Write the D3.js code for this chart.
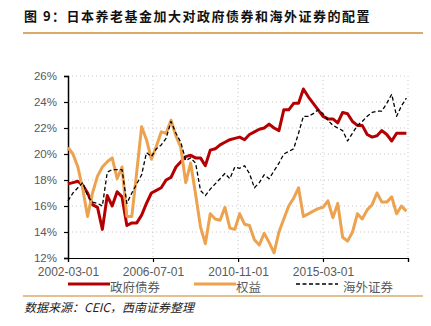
<!DOCTYPE html>
<html><head><meta charset="utf-8">
<script src="https://cdn.jsdelivr.net/npm/d3@7"></script>
<style>body{margin:0;background:#fff}svg{display:block}</style>
</head><body>
<svg id="c" width="431" height="326"></svg>
<script>
const startDate = "2002-03-01";
const tickDates = ["2002-03-01","2006-07-01","2010-11-01","2015-03-01","2019-07-01"];
const tickLabels = ["2002-03-01","2006-07-01","2010-11-01","2015-03-01",""];
const yTicks = [12,14,16,18,20,22,24,26];
const seriesNames = ["政府债券","权益","海外证券"];
const govBonds = [17.7,17.8,17.9,17.6,17.0,16.1,15.9,14.2,16.8,16.0,17.1,16.7,14.5,14.7,14.7,15.3,16.2,17.0,17.2,17.4,
 18.0,18.2,19.0,19.4,19.8,19.9,19.7,19.7,19.1,20.3,20.4,20.7,20.9,21.1,21.2,21.3,21.1,21.5,21.7,21.9,
 22.0,22.3,22.0,21.8,23.4,23.4,23.9,23.9,25.0,24.4,23.9,23.4,22.9,22.7,22.7,22.4,23.2,23.1,22.5,22.2,
 22.2,21.5,21.3,21.4,21.8,21.5,21.0,21.6,21.6,21.6];
const equities = [20.5,20.0,19.0,17.3,15.2,17.0,18.3,19.0,19.4,19.7,18.1,19.0,15.2,15.2,18.6,22.1,21.1,19.6,20.6,21.7,
 21.6,22.6,21.4,20.5,17.8,19.3,16.9,14.4,13.1,15.4,15.0,14.9,15.9,14.3,14.2,15.4,14.6,14.5,13.4,13.0,
 13.9,13.2,12.4,14.0,15.0,16.0,16.6,17.4,15.2,15.4,15.6,15.8,15.9,16.4,15.1,16.2,13.6,13.3,14.0,15.4,
 15.0,15.7,16.1,17.0,16.3,16.3,16.7,15.4,16.0,15.6];
const foreign = [16.4,17.0,17.4,17.8,16.8,16.3,16.2,16.0,18.6,18.8,18.8,18.8,16.2,17.0,17.7,18.4,20.1,19.8,20.4,20.7,
 21.2,22.5,21.6,20.9,19.5,19.7,19.3,17.2,16.8,17.3,17.7,18.1,18.5,18.1,19.0,18.9,19.1,18.5,17.4,17.8,
 18.4,18.1,18.7,19.3,20.0,20.2,20.4,21.6,22.9,22.9,23.1,23.4,23.1,22.6,22.2,22.0,21.8,21.0,21.6,22.2,
 22.5,22.9,23.2,23.3,23.3,23.9,24.6,22.9,23.7,24.3];

const parse = d3.timeParse("%Y-%m-%d");
const t0 = parse(startDate);
const dates = govBonds.map((_, i) => d3.timeMonth.offset(t0, 3 * i));

const svg = d3.select("#c");
const L = 68, R = 408, T = 76, B = 258;
const x = d3.scaleTime().domain([parse(tickDates[0]), parse(tickDates[tickDates.length-1])]).range([L, R]);
const y = d3.scaleLinear().domain([12, 26]).range([B, T]);

// title
svg.append("text").attr("x", 24).attr("y", 21)
  .attr("font-family", "'Noto Sans CJK SC', sans-serif").attr("font-weight", "bold")
  .attr("font-size", 13).attr("letter-spacing", 1.5).attr("fill", "#111")
  .text("图 9：日本养老基金加大对政府债券和海外证券的配置");
svg.append("line").attr("x1", 23).attr("x2", 423).attr("y1", 33).attr("y2", 33)
  .attr("stroke", "#d9ab6a").attr("stroke-width", 2);

// grid
const grid = svg.append("g");
yTicks.filter(v => v > 12).forEach(v => {
  grid.append("line").attr("x1", L).attr("x2", R).attr("y1", y(v)).attr("y2", y(v))
    .attr("stroke", "#c8c8c8").attr("stroke-width", 1).attr("stroke-dasharray", "1,3");
});
tickDates.slice(1).forEach(d => {
  grid.append("line").attr("x1", x(parse(d))).attr("x2", x(parse(d))).attr("y1", T).attr("y2", B)
    .attr("stroke", "#c8c8c8").attr("stroke-width", 1).attr("stroke-dasharray", "1,3");
});

// axes
const yAxis = d3.axisLeft(y).tickValues(yTicks).tickFormat(d => d + "%").tickSize(4).tickPadding(7);
const gy = svg.append("g").attr("transform", `translate(${L},0)`).call(yAxis);
gy.select(".domain").attr("stroke", "#000").attr("stroke-width", 1.5);
gy.selectAll(".tick line").attr("stroke", "#000").attr("stroke-width", 1.2);
gy.selectAll("text").attr("font-family", "'Liberation Sans', Arial, sans-serif").attr("font-size", 11.5).attr("fill", "#595959");

const xAxis = d3.axisBottom(x).tickValues(tickDates.map(parse))
  .tickFormat((d, i) => tickLabels[i]).tickSize(4).tickPadding(5);
const gx = svg.append("g").attr("transform", `translate(0,${B})`).call(xAxis);
gx.select(".domain").attr("stroke", "#000").attr("stroke-width", 1.2);
gx.selectAll(".tick line").attr("stroke", "#000").attr("stroke-width", 1.2);
gx.selectAll("text").attr("font-family", "'Liberation Sans', Arial, sans-serif").attr("font-size", 12).attr("fill", "#595959");

// lines
const line = d3.line().x((d, i) => x(dates[i])).y(d => y(d));
const styles = [
  {data: govBonds, color: "#b40000", w: 3, dash: null},
  {data: equities, color: "#eca24f", w: 3, dash: null},
  {data: foreign, color: "#000", w: 1.3, dash: "4,2.5"}
];
styles.forEach(s => {
  svg.append("path").datum(s.data).attr("d", line).attr("fill", "none")
    .attr("stroke", s.color).attr("stroke-width", s.w).attr("stroke-linejoin", "round")
    .attr("stroke-dasharray", s.dash);
});

// legend
const legX = [68, 194, 296];
const leg = svg.append("g");
styles.forEach((s, i) => {
  leg.append("line").attr("x1", legX[i]).attr("x2", legX[i] + 42).attr("y1", 284).attr("y2", 284)
    .attr("stroke", s.color).attr("stroke-width", s.w).attr("stroke-dasharray", s.dash);
  leg.append("text").attr("x", legX[i] + 42 + (i === 2 ? 5 : 0)).attr("y", 292)
    .attr("font-family", "'Noto Sans CJK SC', sans-serif").attr("font-size", 12.5).attr("fill", "#595959")
    .text(seriesNames[i]);
});

// footer
svg.append("line").attr("x1", 23).attr("x2", 423).attr("y1", 296).attr("y2", 296)
  .attr("stroke", "#d9ab6a").attr("stroke-width", 1.5);
svg.append("text").attr("x", 24).attr("y", 312)
  .attr("font-family", "'Noto Sans CJK SC', sans-serif").attr("font-size", 12).attr("font-style", "italic")
  .attr("fill", "#222").text("数据来源：CEIC，西南证券整理");
</script>
</body></html>
